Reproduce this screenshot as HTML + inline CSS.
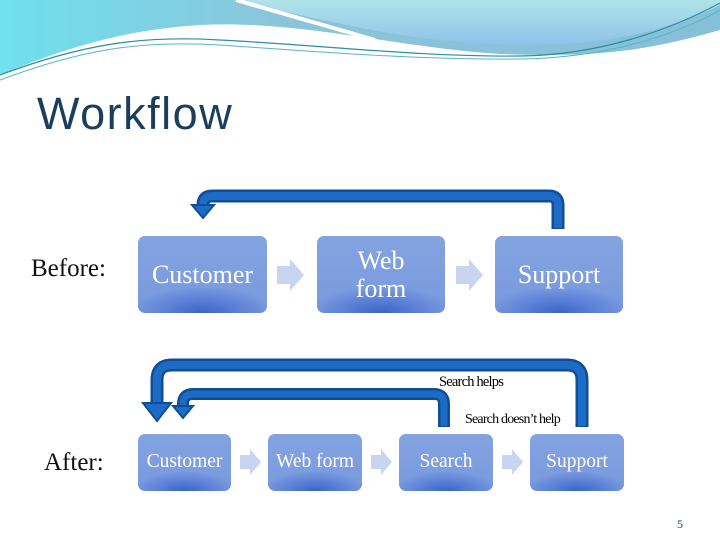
<!DOCTYPE html>
<html><head><meta charset="utf-8"><style>
body{margin:0;width:720px;height:540px;overflow:hidden;background:#fff;position:relative;font-family:"Liberation Serif",serif}
.box{position:absolute;border-radius:7px;color:#fff;display:flex;align-items:center;justify-content:center;text-align:center;line-height:1.05;
background:radial-gradient(ellipse 55% 35% at 50% 100%,#3b64c8 0%,rgba(70,110,210,0.6) 50%,rgba(120,155,225,0) 100%),linear-gradient(#84a3e0,#7899de);}
.lab{position:absolute;font-size:25px;color:#111}
</style></head><body>
<svg width="720" height="540" style="position:absolute;left:0;top:0">
<defs>
<linearGradient id="g1" x1="0" y1="0" x2="1" y2="0"><stop offset="0" stop-color="#6fe0ef"/><stop offset="0.4" stop-color="#8cc4da"/><stop offset="1" stop-color="#86c0d8"/></linearGradient>
<linearGradient id="g2" x1="0" y1="0" x2="0" y2="1"><stop offset="0" stop-color="#b0e4e8"/><stop offset="1" stop-color="#8ec2ea"/></linearGradient>
</defs>
<path d="M0,0 H720 V30 C650,50 600,58 500,54 C400,48 300,20 200,25 C120,30 60,50 0,75 Z" fill="url(#g1)"/>
<path d="M236,0 H720 V5 C680,25 620,44 540,45 C450,46 380,35 236,0 Z" fill="url(#g2)"/>
<path d="M236,0 C300,18 340,30 375,40" stroke="#fff" stroke-width="4" fill="none"/>
<path d="M0,75 C80,45 140,35 220,40 C320,45 420,57 520,56 C600,55 670,30 720,3" stroke="#2a8f9e" stroke-width="1.2" fill="none"/>
<path d="M0,80 C80,50 140,40 220,45 C320,52 420,60 520,59 C600,58 670,38 720,10" stroke="#59b5c0" stroke-width="1" fill="none"/>
<g fill="none" stroke-linejoin="round">
<path d="M558,229 V205 Q558,196 549,196 H212 Q203,196 203,205 V206" stroke="#114c97" stroke-width="13"/>
<path d="M558,228 V205 Q558,196 549,196 H212 Q203,196 203,205 V207" stroke="#1c6cc6" stroke-width="8"/>
<path d="M582,427 V380 Q582,365 567,365 H172 Q157,365 157,380 V404" stroke="#114c97" stroke-width="13"/>
<path d="M582,426 V380 Q582,365 567,365 H172 Q157,365 157,380 V405" stroke="#1c6cc6" stroke-width="8"/>
<path d="M444,427 V404 Q444,394 434,394 H193 Q183,394 183,404 V407" stroke="#114c97" stroke-width="12"/>
<path d="M444,426 V404 Q444,394 434,394 H193 Q183,394 183,404 V408" stroke="#1c6cc6" stroke-width="7"/>
</g>
<polygon points="192,205 214,205 203,218" fill="#1c6cc6" stroke="#114c97" stroke-width="2"/>
<polygon points="143,403 171,403 157,421" fill="#1c6cc6" stroke="#114c97" stroke-width="2"/>
<polygon points="173,406 193,406 183,418" fill="#1c6cc6" stroke="#114c97" stroke-width="2"/>
<g fill="#c9d5f0">
<polygon points="277,266 290,266 290,259 304,275 290,291 290,284 277,284"/>
<polygon points="456,266 469,266 469,259 483,275 469,291 469,284 456,284"/>
<polygon points="240,455 250,455 250,449 261,462 250,475 250,469 240,469"/>
<polygon points="371,455 381,455 381,449 392,462 381,475 381,469 371,469"/>
<polygon points="502,455 512,455 512,449 523,462 512,475 512,469 502,469"/>
</g>
</svg>
<div style="position:absolute;left:37px;top:88px;font-family:'Liberation Sans',sans-serif;font-size:45px;letter-spacing:1.5px;color:#1a3e5c">Workflow</div>
<div class="lab" style="left:31px;top:255px">Before:</div>
<div class="lab" style="left:44px;top:449px">After:</div>
<div class="box" style="left:138px;top:236px;width:129px;height:77px;font-size:26px">Customer</div>
<div class="box" style="left:317px;top:236px;width:128px;height:77px;font-size:26px">Web<br>form</div>
<div class="box" style="left:495px;top:236px;width:128px;height:77px;font-size:26px">Support</div>
<div class="box" style="left:138px;top:434px;width:93px;height:57px;font-size:19.5px">Customer</div>
<div class="box" style="left:268px;top:434px;width:94px;height:57px;font-size:19.5px">Web form</div>
<div class="box" style="left:399px;top:434px;width:94px;height:57px;font-size:19.5px">Search</div>
<div class="box" style="left:530px;top:434px;width:94px;height:57px;font-size:19.5px">Support</div>
<div style="position:absolute;left:439px;top:374px;font-size:14.5px;letter-spacing:-0.8px">Search helps</div>
<div style="position:absolute;left:465px;top:412px;font-size:14px;letter-spacing:-0.8px">Search doesn’t help</div>
<div style="position:absolute;left:677px;top:517px;font-size:12px;color:#1a3e8c">5</div>
</body></html>
